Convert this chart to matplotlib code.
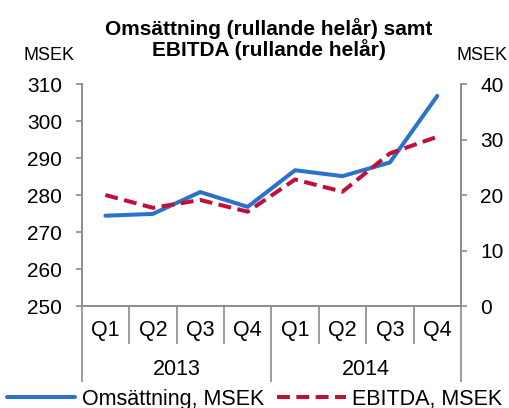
import numpy as np
import matplotlib.pyplot as plt
import matplotlib.transforms as mtransforms

plt.rcParams["font.family"] = ["Liberation Sans", "DejaVu Sans"]

#-------------------------------------------------------------------------

quarters = ["Q1", "Q2", "Q3", "Q4", "Q1", "Q2", "Q3", "Q4"]
years = ["2013", "2014"]

omsattning = [274.4, 274.9, 280.8, 276.8, 286.7, 285.1, 288.8, 306.8]
ebitda = [20.0, 17.7, 19.1, 17.0, 22.8, 20.6, 27.5, 30.5]

blue = "#2B72CC"
red = "#C0103A"
grey = "#8C8C8C"

x = np.arange(len(quarters))

fig = plt.figure(figsize = (5.09, 4.08), dpi = 100)
ax = fig.add_axes([0.1605, 0.25, 0.7452, 0.544])
ax2 = ax.twinx()

l1, = ax.plot(x, omsattning, color = blue, linewidth = 2.9, solid_capstyle = "round",
              label = "Omsättning, MSEK", zorder = 2)
l2, = ax2.plot(x, ebitda, color = red, linewidth = 2.9, linestyle = (0, (3.2, 1.6)),
               label = "EBITDA, MSEK", zorder = 3)

ax.set_xlim(-0.5, len(quarters) - 0.5)
ax.set_ylim(250, 310)
ax.set_yticks(np.arange(250, 311, 10))
ax2.set_ylim(0, 40)
ax2.set_yticks(np.arange(0, 41, 10))

for a in (ax, ax2):
    a.spines["top"].set_visible(False)
    for s in ("left", "right", "bottom"):
        a.spines[s].set_color(grey)
        a.spines[s].set_linewidth(1.2)

ax.tick_params(axis = "y", length = 4, width = 1.2, color = grey, pad = 10, labelsize = 15)
ax2.tick_params(axis = "y", length = 4, width = 1.2, color = grey, pad = 10, labelsize = 15)

# category axis: quarter boundaries short, year boundaries long
bounds = np.arange(len(quarters) + 1) - 0.5
year_bounds = [bounds[0], bounds[4], bounds[-1]]
ax.set_xticks(year_bounds)
ax.set_xticks([b for b in bounds if b not in year_bounds], minor = True)
ax.tick_params(axis = "x", which = "major", length = 55, width = 1.2, color = grey, labelbottom = False)
ax.tick_params(axis = "x", which = "minor", length = 27, width = 1.2, color = grey, labelbottom = False)

trans = mtransforms.blended_transform_factory(ax.transData, ax.transAxes)
for i, q in enumerate(quarters):
    ax.text(x[i], -0.112, q, transform = trans, ha = "center", va = "center", fontsize = 15.5)
for j, yr in enumerate(years):
    ax.text(x[4 * j:4 * j + 4].mean(), -0.285, yr, transform = trans, ha = "center", va = "center", fontsize = 15.5)

fig.text(0.097, 0.865, "MSEK", ha = "center", va = "center", fontsize = 13)
fig.text(0.947, 0.865, "MSEK", ha = "center", va = "center", fontsize = 13)

fig.text(0.528, 0.905, "Omsättning (rullande helår) samt\nEBITDA (rullande helår)",
         ha = "center", va = "center", fontsize = 15, fontweight = "bold", linespacing = 1.0)

fig.legend(handles = [l1, l2], loc = "center", bbox_to_anchor = (0.5, 0.022), ncol = 2,
           frameon = False, fontsize = 15.5, handlelength = 3.2, handletextpad = 0.3,
           columnspacing = 0.6, borderaxespad = 0)

plt.savefig("out.png", dpi = 100)
